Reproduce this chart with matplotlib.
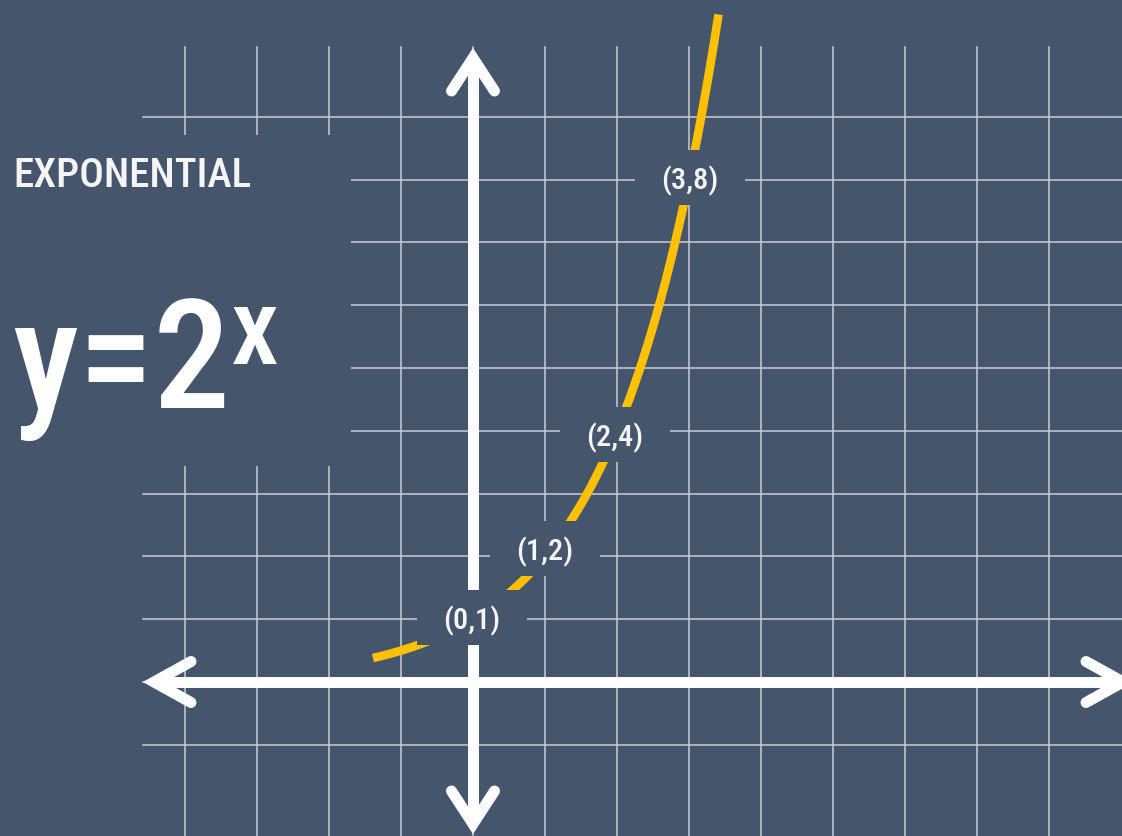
import os
import re

import numpy as np
import matplotlib
matplotlib.use("Agg")
import matplotlib.pyplot as plt
from matplotlib import font_manager
from matplotlib.patches import Rectangle


# labelled points on the curve
point_x = [0, 1, 2, 3]
point_y = [1, 2, 4, 8]
point_labels = ["(0,1)", "(1,2)", "(2,4)", "(3,8)"]

# x range the curve is drawn over
curve_x_start = -1.39
curve_x_end = 3.41

title_text = "EXPONENTIAL"
formula_base = "y=2"
formula_exp = "x"

BG = "#45556b"
GRID = "#c9ced6"
CURVE = "#ffc000"
WHITE = "#ffffff"
TEXT = "#f4f4f4"

W, H = 1122, 836
ORIGIN_PX = (473, 682)
UNIT_X = 72.0
UNIT_Y = 62.8


def find_font(patterns):
    fonts = font_manager.fontManager.ttflist
    for pat in patterns:
        for f in fonts:
            if re.match(pat, os.path.basename(f.fname).lower()):
                return font_manager.FontProperties(fname=f.fname)
    return font_manager.FontProperties(family="DejaVu Sans", stretch="condensed")


def px_to_data(px, py):
    return (px - ORIGIN_PX[0]) / UNIT_X, (ORIGIN_PX[1] - py) / UNIT_Y


def chevron(ax, tip, arm1, arm2, lw):
    xs = [arm1[0], tip[0], arm2[0]]
    ys = [arm1[1], tip[1], arm2[1]]
    ax.plot(xs, ys, color=WHITE, lw=lw, solid_joinstyle="miter",
            solid_capstyle="round", zorder=4)


def fit_size(txt, target_w, max_size, renderer):
    # shrink the text so it is no wider than in the reference
    txt.set_fontsize(100)
    w = txt.get_window_extent(renderer).width
    txt.set_fontsize(min(max_size, 100 * target_w / w))


font = find_font([
    r"^notosans-extracondensed(-regular)?\.ttf$",
    r"^robotocondensed-medium\.ttf$",
    r"^robotocondensed-regular\.ttf$",
    r"^liberationsansnarrow-regular\.ttf$",
    r"^dejavusanscondensed\.ttf$",
])

fig = plt.figure(figsize=(W / 100, H / 100), dpi=100)
fig.patch.set_facecolor(BG)
ax = fig.add_axes([0, 0, 1, 1])
ax.set_facecolor(BG)
x0, y_top = px_to_data(0, 0)
x1, y_bot = px_to_data(W, H)
ax.set_xlim(x0, x1)
ax.set_ylim(y_bot, y_top)
ax.axis("off")
renderer = fig.canvas.get_renderer()

# grid
grid_left, grid_top = px_to_data(143, 47)
for gx in range(-4, 9):
    ax.plot([gx, gx], [y_bot, grid_top], color=GRID, lw=1.1, zorder=1)
for gy in range(-1, 10):
    ax.plot([grid_left, x1], [gy, gy], color=GRID, lw=1.1, zorder=1)

# blank patch behind the heading text
hx0, hy0 = px_to_data(100, 466)
hx1, hy1 = px_to_data(351, 135)
ax.add_patch(Rectangle((hx0, hy0), hx1 - hx0, hy1 - hy0, facecolor=BG,
                       edgecolor="none", zorder=2))

# curve
xs = np.linspace(curve_x_start, curve_x_end, 300)
ax.plot(xs, 2.0 ** xs, color=CURVE, lw=6.2, solid_capstyle="butt", zorder=3)

# axes with arrow heads
axis_lw = 7.9
left = px_to_data(154, 682)[0]
right = px_to_data(1123, 682)[0]
top = px_to_data(473, 58)[1]
bottom = px_to_data(473, 824)[1]
ax.plot([left, right], [0, 0], color=WHITE, lw=axis_lw, solid_capstyle="butt", zorder=4)
ax.plot([0, 0], [bottom, top], color=WHITE, lw=axis_lw, solid_capstyle="butt", zorder=4)

ha_along = 37 / UNIT_X
ha_side = 20.5 / UNIT_Y
va_along = 33 / UNIT_Y
va_side = 21.5 / UNIT_X
chevron(ax, (left, 0), (left + ha_along, ha_side), (left + ha_along, -ha_side), axis_lw)
chevron(ax, (right, 0), (right - ha_along, ha_side), (right - ha_along, -ha_side), axis_lw)
chevron(ax, (0, top), (-va_side, top - va_along), (va_side, top - va_along), axis_lw)
chevron(ax, (0, bottom), (-va_side, bottom + va_along), (va_side, bottom + va_along), axis_lw)

# point labels with background boxes
nudge_px = [(-1, 2), (0, 8), (-2, -4), (1, 2)]
box_w = 110 / UNIT_X
box_h = 55 / UNIT_Y
for px_, py_, lab, (dx, dy) in zip(point_x, point_y, point_labels, nudge_px):
    cx = px_ + dx / UNIT_X
    cy = py_ + dy / UNIT_Y
    ax.add_patch(Rectangle((cx - box_w / 2, cy - box_h / 2), box_w, box_h,
                           facecolor=BG, edgecolor="none", zorder=5))
    t = ax.text(cx, cy, lab, color=TEXT, fontproperties=font,
                ha="center", va="center_baseline", zorder=6)
    fit_size(t, 57, 24, renderer)

# heading and formula
t = fig.text(13 / W, 1 - 187 / H, title_text, color=TEXT, fontproperties=font,
             ha="left", va="baseline")
fit_size(t, 238, 40, renderer)

base = fig.text(12 / W, 1 - 408 / H, formula_base, color=WHITE, fontproperties=font,
                ha="left", va="baseline")
fit_size(base, 218, 137, renderer)
base_right = base.get_window_extent(renderer).x1
sup = fig.text((base_right + 1) / W, 1 - 364 / H, formula_exp, color=WHITE,
               fontproperties=font, ha="left", va="baseline")
fit_size(sup, 48, 98, renderer)

fig.savefig("out.png", dpi=100, facecolor=BG)
